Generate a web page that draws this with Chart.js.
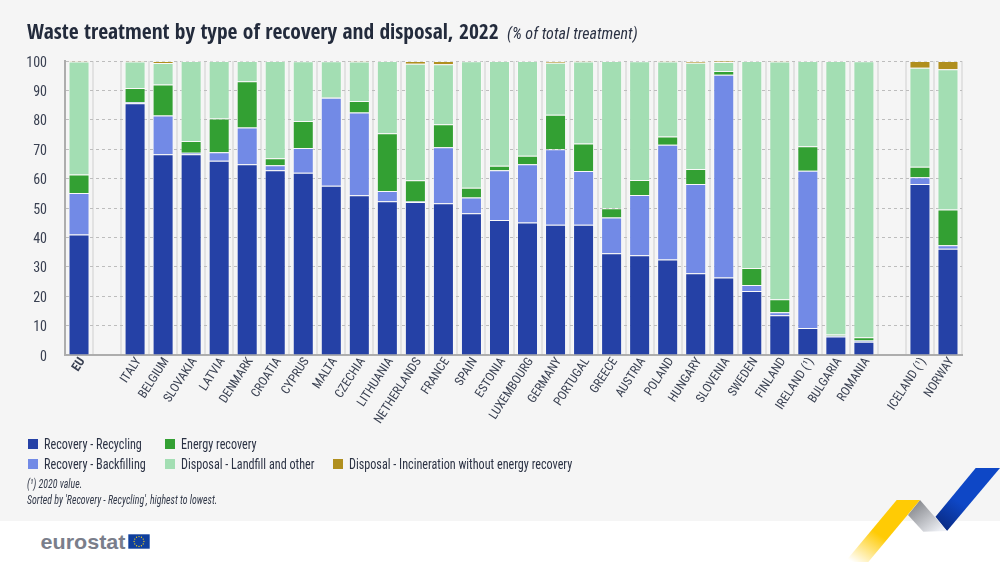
<!DOCTYPE html>
<html>
<head>
<meta charset="utf-8">
<script src="https://cdn.jsdelivr.net/npm/chart.js@4"></script>
<style>
  html, body { margin: 0; padding: 0; background: #fff; }
  body { width: 1000px; height: 562px; overflow: hidden; position: relative; font-family: "Roboto Condensed", sans-serif; color: #2b3244; }
  #bg { position: absolute; left: 0; top: 0; width: 1000px; height: 521px; background: #f5f5f5; }
  #chart { position: absolute; left: 0; top: 0; }
  .t { position: absolute; white-space: nowrap; transform-origin: left center; }
  #title { left: 27px; top: 17px; font-family: "Open Sans Condensed", sans-serif; font-size: 21.5px; font-weight: bold; color: #232b3c; line-height: 28px; }
  #subtitle { left: 507px; top: 24px; font-size: 16px; font-style: italic; line-height: 20px; }
  .legend-swatch { position: absolute; width: 10px; height: 10px; }
  .legend-label { position: absolute; font-size: 15px; line-height: 18px; white-space: nowrap; transform-origin: left center; transform: scaleX(0.81); }
  .note { font-size: 13px; font-style: italic; line-height: 16px; color: #333a4a; transform: scaleX(0.76); }
  svg { position: absolute; left: 0; top: 0; }
</style>
</head>
<body>
<div id="bg"></div>
<svg width="1000" height="562" viewBox="0 0 1000 562">
  <defs>
    <linearGradient id="gy" x1="0.75" y1="0.2" x2="0.1" y2="1"><stop offset="0.45" stop-color="#ffcb05"/><stop offset="1" stop-color="#ffffff"/></linearGradient>
    <linearGradient id="gg" x1="0.1" y1="0.15" x2="0.85" y2="0.95"><stop offset="0" stop-color="#86888d"/><stop offset="1" stop-color="#eef0f5"/></linearGradient>
    <linearGradient id="gb" x1="0.7" y1="0.3" x2="0.2" y2="1"><stop offset="0.45" stop-color="#0e47c6"/><stop offset="1" stop-color="#0a2c86"/></linearGradient>
  </defs>
  <polygon points="975.7,468 1000,468 947,531 935.5,516.7" fill="url(#gb)"/>
  <polygon points="920,500 947,531 923.3,531.7 908,515" fill="url(#gg)"/>
  <polygon points="896.7,500 920,500 868.3,562 845,562" fill="url(#gy)"/>
  <text x="40.5" y="549" font-family="Liberation Sans" font-weight="bold" font-size="21" fill="#7a7e8b" textLength="85" lengthAdjust="spacingAndGlyphs">eurostat</text>
  <rect x="128.3" y="534.3" width="21.4" height="14.4" fill="#0f3f9d"/>
  <g id="stars" fill="#f2d21c"></g>
</svg>
<canvas id="chart" width="1000" height="562"></canvas>
<div id="title" class="t">Waste treatment by type of recovery and disposal, 2022</div>
<div id="subtitle" class="t">(% of total treatment)</div>
<div id="legend"></div>
<div class="t note" style="left:27px;top:476px">(¹) 2020 value.</div>
<div class="t note" style="left:27px;top:492px">Sorted by 'Recovery - Recycling', highest to lowest.</div>
<script>
const categories = ['EU','','ITALY','BELGIUM','SLOVAKIA','LATVIA','DENMARK','CROATIA','CYPRUS','MALTA','CZECHIA','LITHUANIA','NETHERLANDS','FRANCE','SPAIN','ESTONIA','LUXEMBOURG','GERMANY','PORTUGAL','GREECE','AUSTRIA','POLAND','HUNGARY','SLOVENIA','SWEDEN','FINLAND','IRELAND (¹)','BULGARIA','ROMANIA','','ICELAND (¹)','NORWAY'];
const recycling = [41.0,null,85.6,68.3,68.3,66.1,64.9,62.8,62.0,57.6,54.3,52.3,52.0,51.6,48.2,45.9,45.1,44.3,44.3,34.6,33.9,32.5,27.8,26.4,21.8,13.5,9.2,6.3,4.5,null,58.2,36.1];
const backfilling = [14.1,null,0.4,13.2,0.5,2.9,12.5,1.7,8.4,29.9,28.2,3.5,0.2,19.1,5.4,16.9,19.8,25.7,18.3,12.2,20.5,39.0,30.4,68.9,2.0,1.0,53.5,0.3,0.4,null,2.3,1.2];
const energy = [6.3,null,4.8,10.5,4.0,11.4,15.7,2.4,9.2,0.1,3.9,19.6,7.2,7.8,3.3,1.6,2.9,11.7,9.3,3.1,5.1,2.8,5.1,1.3,5.8,4.5,8.3,0.4,1.1,null,3.5,12.2];
const landfill = [38.4,null,9.0,7.3,27.2,19.6,6.9,33.1,20.3,12.3,13.4,24.6,39.7,20.4,43.0,35.6,32.2,17.7,27.9,50.1,40.4,25.5,36.1,3.1,70.4,80.8,29.0,93.0,93.9,null,33.7,47.7];
const incineration = [0.2,null,0.2,0.7,0,0,0,0,0.1,0.1,0.2,0,0.9,1.1,0.1,0,0,0.6,0.2,0,0.1,0.2,0.6,0.3,0,0.2,0,0,0.1,null,2.3,2.8];
const seriesNames = ['Recovery - Recycling','Recovery - Backfilling','Energy recovery','Disposal - Landfill and other','Disposal - Incineration without energy recovery'];
const seriesColors = ['#2541a6','#728ae6','#33a033','#a3deb3','#b08f1e'];
const seriesValues = [recycling, backfilling, energy, landfill, incineration];
const yTicks = [0,10,20,30,40,50,60,70,80,90,100];

const FONT = '"Roboto Condensed", sans-serif';
const legendPos = [[28,437],[28,457],[165,437],[165,457],[333,457]];
const legend = document.getElementById('legend');
seriesNames.forEach((n,i)=>{
  const s=document.createElement('div'); s.className='legend-swatch';
  s.style.left=legendPos[i][0]+'px'; s.style.top=(legendPos[i][1]+2)+'px'; s.style.background=seriesColors[i];
  const l=document.createElement('div'); l.className='legend-label'; l.textContent=n;
  l.style.left=(legendPos[i][0]+16)+'px'; l.style.top=(legendPos[i][1]-2)+'px';
  legend.appendChild(s); legend.appendChild(l);
});
const stars=document.getElementById('stars');
for(let i=0;i<12;i++){
  const c=document.createElementNS('http://www.w3.org/2000/svg','circle');
  const a=i*Math.PI/6;
  c.setAttribute('cx',139+4.9*Math.cos(a)); c.setAttribute('cy',541.5+4.9*Math.sin(a)); c.setAttribute('r',0.65);
  stars.appendChild(c);
}

new Chart(document.getElementById('chart'), {
  type: 'bar',
  data: {
    labels: categories,
    datasets: seriesValues.map((v,i)=>({
      label: seriesNames[i], data: v, backgroundColor: seriesColors[i],
      borderColor: 'rgba(255,255,255,0.4)', borderWidth: 1,
      barPercentage: 0.75, categoryPercentage: 1
    }))
  },
  options: {
    responsive: false, animation: false, devicePixelRatio: 1,
    layout: { padding: { left: 20, right: 38, top: 61, bottom: 0 } },
    plugins: { legend: { display: false }, tooltip: { enabled: false }, title: { display: false } },
    scales: {
      x: {
        stacked: true,
        afterFit: s => { s.height = 207; },
        border: { color: '#adadad', width: 2 },
        grid: { color: '#e2e2e2', lineWidth: 2, drawTicks: false, offset: true },
        ticks: {
          autoSkip: false, minRotation: 57, maxRotation: 57, padding: 0, labelOffset: 3.5, color: '#3a4152',
          font: ctx => ({ family: FONT, size: 12.5, weight: ctx.index === 0 ? 'bold' : 'normal' })
        }
      },
      y: {
        stacked: true, min: 0, max: 100,
        afterFit: s => { s.width = 45; },
        afterBuildTicks: s => { s.ticks = yTicks.map(v => ({ value: v })); },
        border: { color: '#adadad', width: 2, dash: [3, 3] },
        grid: { color: '#bdbdbd', lineWidth: 1, drawTicks: false },
        ticks: { padding: 18, labelOffset: 2, color: '#3a4152', font: { family: FONT, size: 14 } }
      }
    }
  }
});
</script>
</body>
</html>
